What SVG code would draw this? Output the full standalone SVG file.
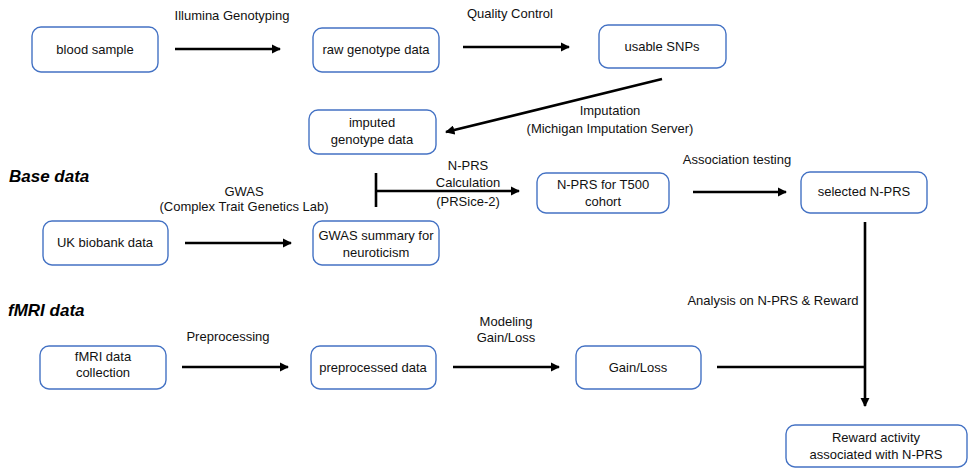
<svg xmlns="http://www.w3.org/2000/svg" width="972" height="468" viewBox="0 0 972 468">
<defs>
<marker id="ah" viewBox="0 0 10 10" refX="9" refY="5" markerWidth="3.6" markerHeight="3.6" markerUnits="strokeWidth" orient="auto">
<path d="M0,0 L10,5 L0,10 z" fill="#000"/>
</marker>
<style>
.box{fill:#fff;stroke:#4472c4;stroke-width:1.4}
.t{font-family:"Liberation Sans",Arial,sans-serif;font-size:13px;fill:#111;text-anchor:middle}
.h{font-family:"Liberation Sans",Arial,sans-serif;font-size:17px;font-weight:bold;font-style:italic;fill:#000}
.c{stroke:#000;stroke-width:2.6;fill:none}
.a{marker-end:url(#ah)}
</style>
</defs>
<rect width="972" height="468" fill="#fff"/>

<text class="h" x="9" y="182">Base data</text>
<text class="h" x="8" y="316">fMRI data</text>

<g id="connectors">
<line class="c a" x1="175" y1="49" x2="280" y2="49"/>
<text class="t" x="232" y="20">Illumina Genotyping</text>
<line class="c a" x1="463" y1="47" x2="569" y2="47"/>
<text class="t" x="510" y="18">Quality Control</text>
<line class="c a" x1="662" y1="79" x2="446" y2="132"/>
<text class="t" x="610" y="115">Imputation</text>
<text class="t" x="610" y="133">(Michigan Imputation Server)</text>
<line class="c" x1="376" y1="173" x2="376" y2="207"/>
<line class="c a" x1="376" y1="191" x2="519" y2="191"/>
<text class="t" x="468" y="170">N-PRS</text>
<text class="t" x="468" y="187">Calculation</text>
<text class="t" x="468" y="206">(PRSice-2)</text>
<line class="c a" x1="185" y1="243" x2="291" y2="243"/>
<text class="t" x="244" y="196">GWAS</text>
<text class="t" x="244" y="211">(Complex Trait Genetics Lab)</text>
<line class="c a" x1="693" y1="192" x2="786" y2="192"/>
<text class="t" x="737" y="164">Association testing</text>
<line class="c a" x1="182" y1="367" x2="288" y2="367"/>
<text class="t" x="228" y="341">Preprocessing</text>
<line class="c a" x1="453" y1="367" x2="559" y2="367"/>
<text class="t" x="506" y="326">Modeling</text>
<text class="t" x="506" y="342">Gain/Loss</text>
<line class="c" x1="717" y1="367" x2="865" y2="367"/>
<line class="c a" x1="865" y1="222" x2="865" y2="406"/>
<text class="t" x="773" y="305">Analysis on N-PRS &amp; Reward</text>
</g>

<g id="blood"><rect class="box" x="32" y="27" width="126" height="45" rx="9"/><text class="t" x="95" y="54">blood sample</text></g>
<g id="raw"><rect class="box" x="313" y="28" width="126" height="44" rx="9"/><text class="t" x="376" y="54">raw genotype data</text></g>
<g id="snps"><rect class="box" x="599" y="25" width="127" height="43" rx="9"/><text class="t" x="662" y="51">usable SNPs</text></g>
<g id="imputed"><rect class="box" x="309" y="110" width="127" height="44" rx="9"/><text class="t" x="372" y="127">imputed</text><text class="t" x="372" y="144">genotype data</text></g>
<g id="nprs"><rect class="box" x="537" y="173" width="132" height="40" rx="9"/><text class="t" x="603" y="189">N-PRS for T500</text><text class="t" x="603" y="206">cohort</text></g>
<g id="selected"><rect class="box" x="801" y="172" width="126" height="41" rx="9"/><text class="t" x="864" y="196">selected N-PRS</text></g>
<g id="ukb"><rect class="box" x="43" y="221" width="125" height="44" rx="9"/><text class="t" x="105" y="247">UK biobank data</text></g>
<g id="gwas"><rect class="box" x="313" y="221" width="126" height="44" rx="9"/><text class="t" x="376" y="240">GWAS summary for</text><text class="t" x="376" y="257">neuroticism</text></g>
<g id="fmri"><rect class="box" x="40" y="346" width="126" height="43" rx="9"/><text class="t" x="103" y="361">fMRI data</text><text class="t" x="103" y="377">collection</text></g>
<g id="prep"><rect class="box" x="311" y="346" width="125" height="43" rx="9"/><text class="t" x="373" y="372">preprocessed data</text></g>
<g id="gainloss"><rect class="box" x="576" y="346" width="125" height="43" rx="9"/><text class="t" x="638" y="372">Gain/Loss</text></g>
<g id="reward"><rect class="box" x="786" y="425" width="181" height="42" rx="9"/><text class="t" x="876" y="442">Reward activity</text><text class="t" x="876" y="459">associated with N-PRS</text></g>
</svg>
